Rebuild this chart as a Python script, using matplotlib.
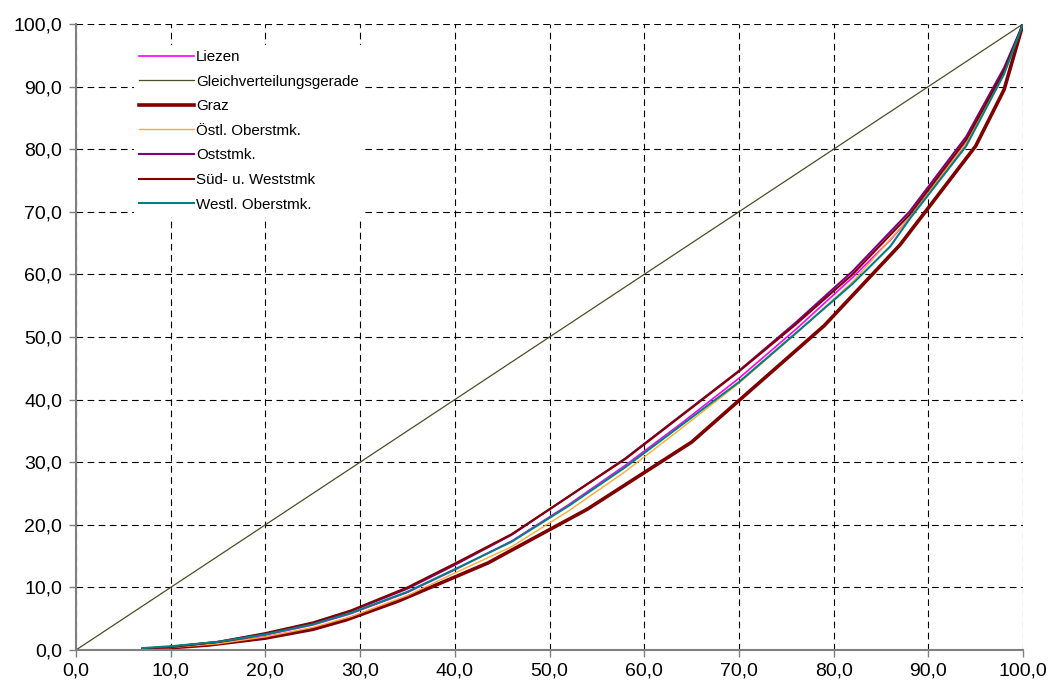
#!/usr/bin/env python3
"""Lorenzkurven der steirischen Regionen (Nachbau)."""

import matplotlib
matplotlib.use("Agg")
import matplotlib.pyplot as plt
from matplotlib.ticker import FuncFormatter, MultipleLocator

# Datenpunkte (x = kum. Anteil Bevölkerung, y = kum. Anteil Einkommen)
liezen_x = [7, 10, 15, 20, 25, 29, 35, 40, 46, 52, 58, 64, 70, 76, 82, 86, 88, 94, 98, 100]
liezen_y = [0.2, 0.5, 1.2, 2.4, 4.0, 5.8, 9.2, 12.8, 17.4, 23.2, 29.5, 36.3, 43.4, 51.2, 59.5, 65.5, 69.0, 81.0, 92.5, 100]

gerade_x = [0, 100]
gerade_y = [0, 100]

graz_x = [8.5, 14, 20, 25, 28.5, 34, 43.5, 54, 65, 79, 87, 95, 98, 100]
graz_y = [0.2, 0.8, 1.9, 3.3, 4.8, 7.8, 13.9, 22.5, 33.2, 51.8, 64.7, 80.5, 89.5, 100]

oestl_x = [7, 10, 15, 20, 25, 29, 35, 40, 46, 52, 58, 64, 70, 76, 82, 88, 94, 98, 100]
oestl_y = [0.2, 0.4, 1.0, 2.1, 3.6, 5.3, 8.7, 12.3, 16.5, 22.2, 28.5, 35.5, 42.6, 50.5, 58.8, 69.0, 81.0, 92.3, 100]

ost_x = [7, 10, 15, 20, 25, 29, 35, 40, 46, 52, 58, 64, 70, 76, 82, 88, 94, 98, 100]
ost_y = [0.2, 0.5, 1.3, 2.6, 4.3, 6.2, 9.8, 13.6, 18.4, 24.5, 30.6, 37.6, 44.6, 52.3, 60.5, 70.0, 82.0, 93.0, 100]

sued_x = [7, 10, 15, 20, 25, 29, 35, 40, 46, 52, 58, 64, 70, 76, 82, 88, 94, 98, 100]
sued_y = [0.2, 0.5, 1.3, 2.7, 4.4, 6.3, 10.0, 13.8, 18.5, 24.5, 30.5, 37.5, 44.5, 52.0, 60.0, 69.5, 81.5, 92.5, 100]

westl_x = [7, 10, 15, 20, 25, 29, 35, 40, 46, 52, 58, 64, 70, 76, 82, 86, 88, 94, 98, 100]
westl_y = [0.3, 0.6, 1.3, 2.5, 4.1, 5.9, 9.3, 12.9, 17.3, 23.0, 29.2, 36.0, 42.8, 50.6, 58.5, 64.5, 68.8, 80.5, 92.0, 100]


def komma(v, _pos):
    return f"{v:.1f}".replace(".", ",")


def main() -> None:
    plt.rcParams["font.family"] = ["Liberation Sans", "DejaVu Sans"]
    fig = plt.figure(figsize=(10.5, 6.88), dpi=100)
    ax = fig.add_axes([76 / 1050, 38 / 688, 947 / 1050, 626 / 688])

    ax.plot(liezen_x, liezen_y, color="#FF00FF", lw=1.2, label="Liezen", zorder=3)
    ax.plot(gerade_x, gerade_y, color="#4D4D26", lw=0.9, label="Gleichverteilungsgerade", zorder=3)
    ax.plot(graz_x, graz_y, color="#800000", lw=2.6, label="Graz", zorder=3)
    ax.plot(oestl_x, oestl_y, color="#FFAA33", lw=1.0, label="Östl. Oberstmk.", zorder=3)
    ax.plot(ost_x, ost_y, color="#800080", lw=1.5, label="Oststmk.", zorder=3)
    ax.plot(sued_x, sued_y, color="#800000", lw=1.5, label="Süd- u. Weststmk", zorder=3)
    ax.plot(westl_x, westl_y, color="#008080", lw=1.5, label="Westl. Oberstmk.", zorder=3)

    ax.set_xlim(0, 100)
    ax.set_ylim(0, 100)
    ax.xaxis.set_major_locator(MultipleLocator(10))
    ax.yaxis.set_major_locator(MultipleLocator(10))
    ax.xaxis.set_major_formatter(FuncFormatter(komma))
    ax.yaxis.set_major_formatter(FuncFormatter(komma))

    ax.grid(True, color="black", lw=0.8, linestyle=(0, (6, 4)), zorder=1)
    for side in ("top", "right"):
        ax.spines[side].set_visible(False)
    for side in ("left", "bottom"):
        ax.spines[side].set_color("#808080")
        ax.spines[side].set_linewidth(1.5)
        ax.spines[side].set_zorder(4)
    ax.tick_params(axis="both", direction="out", length=5, width=1, color="#808080",
                   labelsize=14, labelcolor="black")
    ax.tick_params(axis="x", pad=4)
    ax.tick_params(axis="y", pad=5)

    leg = ax.legend(loc="upper left", bbox_to_anchor=(58 / 947, 0.967), frameon=True,
                    facecolor="white", edgecolor="none", framealpha=1, fancybox=False,
                    fontsize=10.9, handlelength=3.6, handletextpad=0.15,
                    labelspacing=0.7, borderpad=0.35, borderaxespad=0)
    leg.set_zorder(5)

    fig.savefig("out.png", dpi=100)
    plt.close(fig)


if __name__ == "__main__":
    main()
